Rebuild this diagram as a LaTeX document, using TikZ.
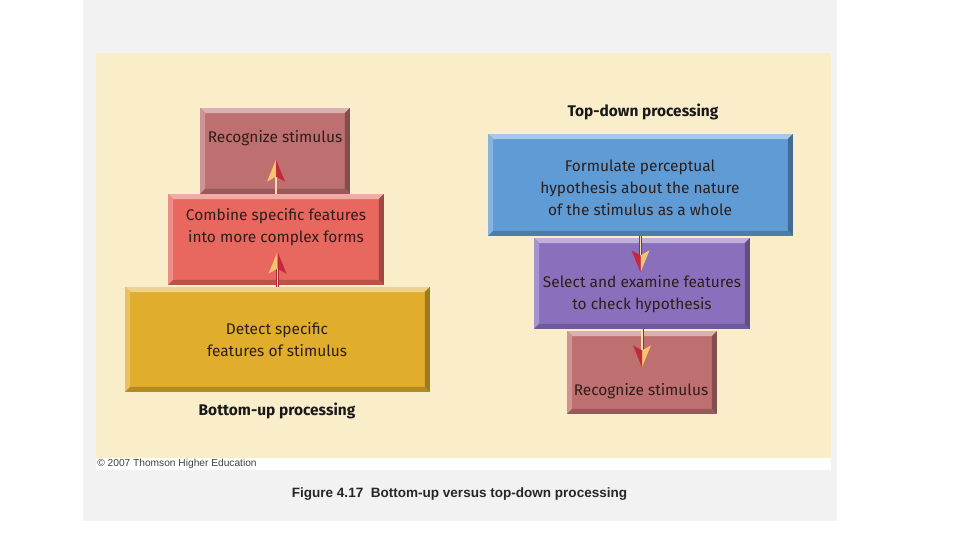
\documentclass[tikz,border=0pt]{standalone}
\usepackage{fontspec}
\setmainfont{Fira Sans}
\newfontfamily\capfont{Liberation Sans}
\usetikzlibrary{positioning}
\definecolor{paper}{HTML}{F2F2F2}
\definecolor{cream}{HTML}{FAEDC9}
\definecolor{crose}{HTML}{BE6F70}
\definecolor{csalmon}{HTML}{E8675F}
\definecolor{cgold}{HTML}{E0AE2C}
\definecolor{cblue}{HTML}{5F9BD4}
\definecolor{cviolet}{HTML}{8A70BC}
\definecolor{ink}{HTML}{2E1E1A}
\definecolor{headlight}{HTML}{F7C46E}
\definecolor{headdark}{HTML}{C4283A}
\definecolor{shaftred}{HTML}{A82636}
\tikzset{
  bevel/.style={fill=#1, path picture={
    \fill[#1!55!white] (path picture bounding box.north west) -- (path picture bounding box.north east)
      -- ([xshift=-1mm,yshift=-1mm]path picture bounding box.north east) -- ([xshift=1mm,yshift=-1mm]path picture bounding box.north west) -- cycle;
    \fill[#1!75!white] (path picture bounding box.north west) -- (path picture bounding box.south west)
      -- ([xshift=1mm,yshift=1mm]path picture bounding box.south west) -- ([xshift=1mm,yshift=-1mm]path picture bounding box.north west) -- cycle;
    \fill[#1!70!black] (path picture bounding box.north east) -- (path picture bounding box.south east)
      -- ([xshift=-1mm,yshift=1mm]path picture bounding box.south east) -- ([xshift=-1mm,yshift=-1mm]path picture bounding box.north east) -- cycle;
    \fill[#1!80!black] (path picture bounding box.south west) -- (path picture bounding box.south east)
      -- ([xshift=-1mm,yshift=1mm]path picture bounding box.south east) -- ([xshift=1mm,yshift=1mm]path picture bounding box.south west) -- cycle;
  }},
  box/.style={bevel=#1, inner sep=0pt},
  txt/.style={font=\fontsize{8.8}{12.5}\selectfont, text=ink, align=center},
  title/.style={font=\fontsize{8.8}{10}\selectfont\bfseries, text=black!90},
  shaft/.style={draw=shaftred, double=headlight!60!white, double distance=0.8pt, line width=0.45pt, shorten >=0.3cm},
  splithead/.pic={
    \fill[headlight] (0,0) -- (-9,22) -- (0,17) -- cycle;
    \fill[headdark] (0,0) -- (9,22) -- (0,17) -- cycle;
  },
}

\begin{document}
\begin{tikzpicture}[x=0.02cm, y=-0.02cm]
  \useasboundingbox (0,0) rectangle (960,540);
  \fill[white] (0,0) rectangle (960,540);
  \fill[paper] (83,0) rectangle (837,521);
  \fill[white] (96,53) rectangle (831,470);
  \fill[cream] (96,53) rectangle (831,458);

  % bottom-up
  \node[box=crose, minimum width=3cm, minimum height=1.72cm] (rec1) at (275,151) {};
  \node[box=csalmon, minimum width=4.32cm, minimum height=1.82cm] (comb) at (276,239.5) {};
  \node[box=cgold, minimum width=6.1cm, minimum height=2.1cm] (detect) at (277.5,339.5) {};
  \node[txt] (rec1-t) at (275,138) {Recognize stimulus};
  \node[txt] (comb-t) at (276,227) {Combine specific features\\into more complex forms};
  \node[txt] (detect-t) at (277,340) {Detect specific\\features of stimulus};
  \node[title] (bu) at (277,411) {Bottom-up processing};

  % top-down
  \node[box=cblue, minimum width=6.1cm, minimum height=2.04cm] (hyp) at (640.5,185) {};
  \node[box=cviolet, minimum width=4.32cm, minimum height=1.82cm] (sel) at (642,283.5) {};
  \node[box=crose, minimum width=3cm, minimum height=1.66cm] (rec2) at (642,372.5) {};
  \node[txt] (hyp-t) at (640,188) {Formulate perceptual\\hypothesis about the nature\\of the stimulus as a whole};
  \node[txt] (sel-t) at (642,294) {Select and examine features\\to check hypothesis};
  \node[txt] (rec2-t) at (641,391) {Recognize stimulus};
  \node[title] (td) at (643,112) {Top-down processing};

  % arrows
  \coordinate (t1) at ([yshift=0.68cm]comb.north);
  \coordinate (t2) at ([yshift=0.7cm]detect.north);
  \coordinate (t3) at ([yshift=-0.72cm]hyp.south);
  \coordinate (t4) at ([yshift=-0.76cm]sel.south);
  \draw[shaft] (comb.north) -- (t1);
  \draw[shaft] (detect.north) -- (t2);
  \draw[shaft] (hyp.south) -- (t3);
  \draw[shaft] (sel.south) -- (t4);
  \pic at (t1) {splithead};
  \pic at (t2) {splithead};
  \pic[rotate=180] at (t3) {splithead};
  \pic[rotate=180] at (t4) {splithead};

  \node[font=\capfont\fontsize{5.8}{6}\selectfont, text=black!75, anchor=west, inner sep=0pt] (copy) at (97,464) {© 2007 Thomson Higher Education};
  \node[font=\capfont\fontsize{7.7}{9}\selectfont\bfseries, text=black!85] (cap) at (459.5,494) {Figure 4.17\ \ Bottom-up versus top-down processing};
\end{tikzpicture}
\end{document}
